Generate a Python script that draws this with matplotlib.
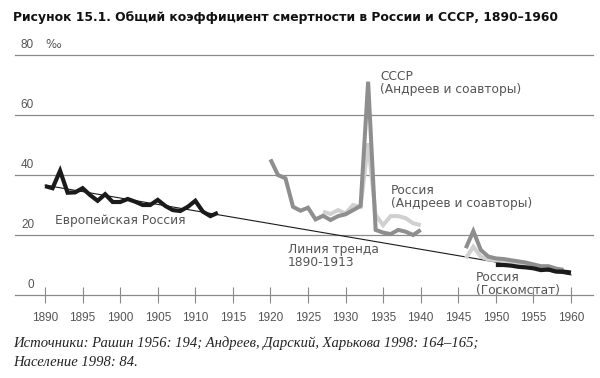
import matplotlib
matplotlib.use("Agg")
import matplotlib.pyplot as plt

# ---- data ----
eur_years = list(range(1890, 1914))
eur_vals = [36.3, 35.6, 41.4, 34.1, 34.2, 35.6, 33.3, 31.4, 33.6, 31.0, 31.0, 32.0,
            31.1, 30.0, 30.0, 31.7, 29.7, 28.3, 28.0, 29.4, 31.4, 27.8, 26.3, 27.4]

ussr_years = list(range(1920, 1941))
ussr_vals = [45.2, 40.0, 38.9, 29.4, 28.1, 29.1, 25.2, 26.4, 25.0, 26.3, 26.9,
             28.3, 29.7, 71.1, 21.7, 20.8, 20.3, 21.7, 21.1, 20.0, 21.7]
ussr_post_years = list(range(1946, 1960))
ussr_post_vals = [15.6, 21.3, 15.0, 12.8, 12.2, 12.0, 11.6, 11.2, 10.8, 10.2, 9.6, 9.6, 8.8, 8.4]

rus_years = list(range(1927, 1941))
rus_vals = [27.8, 27.0, 28.3, 27.2, 30.0, 29.4, 50.6, 26.7, 23.3, 26.3, 26.3, 25.6, 23.9, 23.3]
rus_post_years = list(range(1946, 1960))
rus_post_vals = [12.2, 16.1, 12.8, 11.8, 11.6, 11.4, 11.0, 10.6, 10.2, 9.6, 9.0, 9.2, 8.4, 8.0]

gks_years = list(range(1950, 1961))
gks_vals = [10.0, 10.0, 9.8, 9.4, 9.2, 8.9, 8.3, 8.5, 7.8, 7.8, 7.5]

trend_years = [1890, 1960]
trend_vals = [36.6, 6.7]

y_ticks = [0, 20, 40, 60, 80]
x_ticks = list(range(1890, 1961, 5))

title = "Рисунок 15.1. Общий коэффициент смертности в России и СССР, 1890–1960"
source1 = "Источники: Рашин 1956: 194; Андреев, Дарский, Харькова 1998: 164–165;"
source2 = "Население 1998: 84."

# ---- style ----
BLACK = "#1a1a1a"
DARK = "#8e8e8e"
LIGHT = "#d0d0d0"
GRID = "#8a8a8a"
TXT = "#555555"
FONT = "Liberation Sans"
AFONT = "DejaVu Sans"

fig = plt.figure(figsize=(6.0, 3.78), dpi=100)
ax = fig.add_axes([15 / 600, 83 / 378, 578 / 600, 240 / 378])
ax.set_xlim(1886.0, 1962.93)
ax.set_ylim(0, 80)

for v in y_ticks:
    ax.axhline(v, color=GRID, lw=0.9, zorder=1, clip_on=False)
for s in ax.spines.values():
    s.set_visible(False)

ax.set_yticks([])
ax.set_xticks(x_ticks)
ax.set_xticklabels([str(t) for t in x_ticks], fontsize=8.5, color=TXT, family=FONT)
ax.tick_params(axis="x", direction="inout", length=12, width=0.8, color=GRID, pad=6)

# y labels
for v in y_ticks:
    ax.text(0.033, v + 1.2, str(v), transform=ax.get_yaxis_transform(),
            ha="right", va="bottom", fontsize=8.5, color=TXT, family=FONT)
ax.text(0.052, 81.2, "‰", transform=ax.get_yaxis_transform(),
        ha="left", va="bottom", fontsize=8.5, color=TXT, family="DejaVu Sans")

# trend
ax.plot(trend_years, trend_vals, color=BLACK, lw=0.8, zorder=2, clip_on=False)
# series
kw = dict(solid_joinstyle="miter", solid_capstyle="butt", clip_on=False)
ax.plot(rus_years, rus_vals, color=LIGHT, lw=2.9, zorder=3, **kw)
ax.plot(rus_post_years, rus_post_vals, color=LIGHT, lw=2.9, zorder=3, **kw)
ax.plot(ussr_years, ussr_vals, color=DARK, lw=2.9, zorder=4, **kw)
ax.plot(ussr_post_years, ussr_post_vals, color=DARK, lw=2.9, zorder=4, **kw)
ax.plot(eur_years, eur_vals, color=BLACK, lw=3.0, zorder=5, **kw)
ax.plot(gks_years, gks_vals, color=BLACK, lw=3.0, zorder=5, **kw)

# annotations
akw = dict(fontsize=8.8, color=TXT, family=AFONT, linespacing=1.0, va="top", ha="left")
ax.text(1934.6, 74.9, "СССР\n(Андреев и соавторы)", **akw)
ax.text(1936.0, 36.9, "Россия\n(Андреев и соавторы)", **akw)
ax.text(1891.3, 27.0, "Европейская Россия", **akw)
ax.text(1922.3, 17.2, "Линия тренда\n1890-1913", **akw)
ax.text(1947.3, 8.0, "Россия\n(Госкомстат)", **akw)

fig.text(13 / 600, 1 - 17 / 378, title, ha="left", va="center", fontsize=8.9,
         fontweight="bold", family="DejaVu Sans", color="#111111")
fig.text(13 / 600, 1 - 343 / 378, source1, ha="left", va="center", fontsize=10.5,
         style="italic", family="Liberation Serif", color="#222222")
fig.text(13 / 600, 1 - 362 / 378, source2, ha="left", va="center", fontsize=10.5,
         style="italic", family="Liberation Serif", color="#222222")

fig.savefig("out.png", dpi=100)
